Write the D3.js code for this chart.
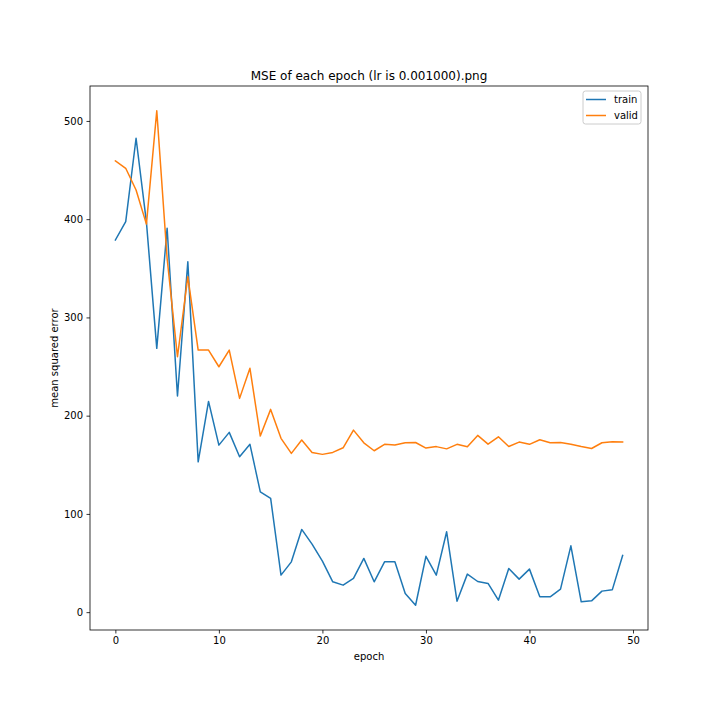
<!DOCTYPE html>
<html>
<head>
<meta charset="utf-8">
<script src="https://cdn.jsdelivr.net/npm/d3@7"></script>
<style>
  body { margin: 0; background: #fff; }
  svg { font-family: "DejaVu Sans", sans-serif; }
</style>
</head>
<body>
<div id="container"></div>
<script>
/* CONSTANTS AND GLOBALS */
const width = 720,
  height = 720,
  margin = { top: 86, bottom: 90, left: 90, right: 72 };

/* DATA */
const epochs = d3.range(0, 50);
const trainMse = [
  378.8, 397.5, 482.4, 397, 268.5, 390.7, 220, 356.7, 153, 214.5,
  170, 183, 158.2, 170.8, 122.5, 115.8, 37.7, 51.2, 84.2, 69.2,
  51.9, 30.9, 27.5, 34.3, 54.7, 30.9, 51.2, 51.2, 19, 7,
  56.8, 37.7, 81.8, 11.2, 38.7, 31.2, 29.2, 12.2, 44.5, 33.6,
  43.8, 15.6, 15.6, 23.4, 67.5, 10.5, 11.5, 21.4, 22.7, 57.7
];
const validMse = [
  459.3, 451.8, 429.7, 395, 510.4, 360, 260, 341.5, 266.8, 266.8,
  249.8, 266.8, 217.6, 248.2, 179.2, 206.4, 176.9, 161.6, 175.2, 162.6,
  160.6, 162.6, 167.3, 185.3, 172.4, 164.3, 170.8, 170.1, 172.4, 172.7,
  167, 168.5, 166.2, 170.8, 168.3, 179.9, 171, 178.5, 168.6, 173.1,
  170.8, 175.5, 172.4, 172.8, 171, 168.6, 166.6, 172.4, 173.5, 173.1
];
const seriesNames = ["train", "valid"];
const seriesColors = ["#1f77b4", "#ff7f0e"];
const xTicks = [0, 10, 20, 30, 40, 50];
const yTicks = [0, 100, 200, 300, 400, 500];

let xScale, yScale;

// matplotlib style 5% padding on the data extent
function padded(ext) {
  const p = (ext[1] - ext[0]) * 0.05;
  return [ext[0] - p, ext[1] + p];
}

function init() {
  xScale = d3.scaleLinear()
    .domain(padded(d3.extent(epochs)))
    .range([margin.left, width - margin.right]);

  yScale = d3.scaleLinear()
    .domain(padded(d3.extent(trainMse.concat(validMse))))
    .range([height - margin.bottom, margin.top]);

  draw();
}

function draw() {
  const svg = d3.select("#container")
    .append("svg")
    .attr("width", width)
    .attr("height", height);

  svg.append("rect")
    .attr("width", width)
    .attr("height", height)
    .attr("fill", "#fff");

  const line = d3.line()
    .x((d, i) => xScale(epochs[i]))
    .y(d => yScale(d));

  const clip = svg.append("clipPath").attr("id", "plot")
    .append("rect")
    .attr("x", margin.left)
    .attr("y", margin.top)
    .attr("width", width - margin.left - margin.right)
    .attr("height", height - margin.top - margin.bottom);

  [trainMse, validMse].forEach((s, k) => {
    svg.append("path")
      .datum(s)
      .attr("clip-path", "url(#plot)")
      .attr("fill", "none")
      .attr("stroke", seriesColors[k])
      .attr("stroke-width", 1.5)
      .attr("stroke-linejoin", "round")
      .attr("stroke-linecap", "square")
      .attr("d", line);
  });

  // x axis
  const xAxis = svg.append("g")
    .attr("transform", `translate(0,${height - margin.bottom})`)
    .call(d3.axisBottom(xScale).tickValues(xTicks).tickSize(3.5).tickPadding(3.5).tickSizeOuter(0));

  // y axis
  const yAxis = svg.append("g")
    .attr("transform", `translate(${margin.left},0)`)
    .call(d3.axisLeft(yScale).tickValues(yTicks).tickSize(3.5).tickPadding(3.5).tickSizeOuter(0));

  [xAxis, yAxis].forEach(ax => {
    ax.select(".domain").remove();
    ax.selectAll(".tick line").attr("stroke", "#000").attr("stroke-width", 0.8);
    ax.selectAll(".tick text")
      .attr("fill", "#000")
      .style("font-size", "10px")
      .style("font-family", "DejaVu Sans");
  });

  // frame
  svg.append("rect")
    .attr("x", margin.left)
    .attr("y", margin.top)
    .attr("width", width - margin.left - margin.right)
    .attr("height", height - margin.top - margin.bottom)
    .attr("fill", "none")
    .attr("stroke", "#000")
    .attr("stroke-width", 0.8);

  // title + labels
  svg.append("text")
    .attr("x", (margin.left + width - margin.right) / 2)
    .attr("y", 80)
    .attr("text-anchor", "middle")
    .style("font-size", "12px")
    .text("MSE of each epoch (lr is 0.001000).png");

  svg.append("text")
    .attr("x", (margin.left + width - margin.right) / 2)
    .attr("y", 660)
    .attr("text-anchor", "middle")
    .style("font-size", "10px")
    .text("epoch");

  svg.append("text")
    .attr("transform", `translate(58,${(margin.top + height - margin.bottom) / 2}) rotate(-90)`)
    .attr("text-anchor", "middle")
    .style("font-size", "10px")
    .text("mean squared error");

  // legend
  const lx = 583, ly = 91;
  const legend = svg.append("g");
  legend.append("rect")
    .attr("x", lx)
    .attr("y", ly)
    .attr("width", 58)
    .attr("height", 33)
    .attr("rx", 2.5)
    .attr("fill", "#fff")
    .attr("fill-opacity", 0.8)
    .attr("stroke", "#ccc")
    .attr("stroke-width", 1);

  seriesNames.forEach((name, i) => {
    const yy = ly + 8.5 + i * 16;
    legend.append("line")
      .attr("x1", lx + 3)
      .attr("x2", lx + 23)
      .attr("y1", yy)
      .attr("y2", yy)
      .attr("stroke", seriesColors[i])
      .attr("stroke-width", 1.5);
    legend.append("text")
      .attr("x", lx + 31)
      .attr("y", yy + 3.5)
      .style("font-size", "10px")
      .text(name);
  });
}

init();
</script>
</body>
</html>
